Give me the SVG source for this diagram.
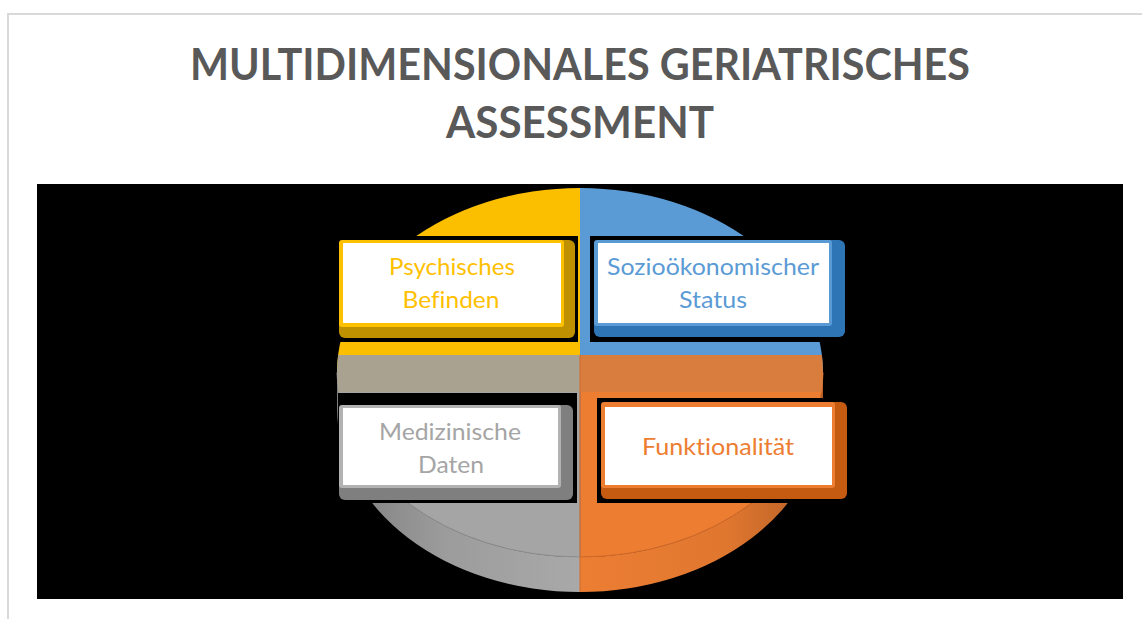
<svg xmlns="http://www.w3.org/2000/svg" width="1142" height="619" viewBox="0 0 1142 619">
  <style>
    .title { font-family: Lato, "Open Sans", "Liberation Sans", sans-serif; font-weight: 700; font-size: 43px; fill: #595959; text-anchor: middle; font-variant-ligatures: none; font-feature-settings: "liga" 0, "dlig" 0; }
    .label { font-family: Lato, "Open Sans", "Liberation Sans", sans-serif; font-size: 24px; text-anchor: middle; font-variant-ligatures: none; font-feature-settings: "liga" 0, "dlig" 0; }
    .backing { fill: #000000; }
    .face { fill: #ffffff; }
  </style>
  <defs>
    <linearGradient id="wallGray" x1="337" y1="0" x2="580" y2="0" gradientUnits="userSpaceOnUse">
      <stop offset="0" stop-color="#7e7e7e"/>
      <stop offset="0.45" stop-color="#9c9c9c"/>
      <stop offset="1" stop-color="#a9a9a9"/>
    </linearGradient>
    <linearGradient id="wallOrange" x1="580" y1="0" x2="823" y2="0" gradientUnits="userSpaceOnUse">
      <stop offset="0" stop-color="#ec7e33"/>
      <stop offset="0.6" stop-color="#e0772f"/>
      <stop offset="1" stop-color="#b45e26"/>
    </linearGradient>
    <clipPath id="topFace">
      <ellipse cx="580" cy="372.5" rx="243" ry="184.5"/>
    </clipPath>
  </defs>

  <!-- page frame -->
  <g id="frame">
    <rect x="0" y="0" width="1142" height="619" fill="#ffffff"/>
    <path d="M8,619 L8,14 L1142,14" fill="none" stroke="#d9d9d9" stroke-width="2"/>
  </g>

  <!-- heading -->
  <g id="title">
    <text class="title" x="580" y="80" textLength="780" lengthAdjust="spacingAndGlyphs">MULTIDIMENSIONALES GERIATRISCHES</text>
    <text class="title" x="580" y="138" textLength="268" lengthAdjust="spacingAndGlyphs">ASSESSMENT</text>
  </g>

  <!-- canvas -->
  <rect id="canvas" x="37" y="184" width="1086" height="415" fill="#000000"/>

  <!-- four-part disc -->
  <g id="disc">
    <!-- side walls -->
    <path d="M337,372.5 L337,407.5 A243,184.5 0 0 0 580,592 L580,557 A243,184.5 0 0 1 337,372.5 Z" fill="url(#wallGray)"/>
    <path d="M823,372.5 L823,407.5 A243,184.5 0 0 1 580,592 L580,557 A243,184.5 0 0 0 823,372.5 Z" fill="url(#wallOrange)"/>
    <!-- top face quadrants -->
    <path d="M580,372.5 L337,372.5 A243,184.5 0 0 1 580,188 Z" fill="#fcbf00"/>
    <path d="M580,372.5 L580,188 A243,184.5 0 0 1 823,372.5 Z" fill="#5b9bd5"/>
    <path d="M580,372.5 L823,372.5 A243,184.5 0 0 1 580,557 Z" fill="#ed7d31" stroke="#d0692a" stroke-width="1"/>
    <path d="M580,372.5 L337,372.5 A243,184.5 0 0 0 580,557 Z" fill="#a5a5a5" stroke="#8e8e8e" stroke-width="1"/>
    <!-- middle band -->
    <g clip-path="url(#topFace)">
      <rect x="337" y="355" width="243" height="37" fill="#aaa290"/>
      <rect x="580" y="355" width="243" height="37" fill="#d87d3d"/>
    </g>
    <line x1="580" y1="355" x2="580" y2="592" stroke="#d0692a" stroke-width="1"/>
  </g>

  <!-- connectors (none) -->
  <g id="connectors"/>

  <!-- nodes -->
  <g id="node-psychisches">
    <rect class="backing" x="338" y="236" width="240" height="106"/>
    <rect x="339" y="240" width="236" height="98" rx="6" fill="#bf9000"/>
    <rect x="339" y="240" width="225" height="87" rx="3" fill="#ffc000"/>
    <rect class="face" x="343" y="243" width="218" height="80"/>
    <text class="label" x="452" y="275" fill="#ffc000" textLength="126" lengthAdjust="spacingAndGlyphs">Psychisches</text>
    <text class="label" x="451" y="308" fill="#ffc000" textLength="97" lengthAdjust="spacingAndGlyphs">Befinden</text>
  </g>

  <g id="node-soziooekonomisch">
    <rect class="backing" x="590" y="236" width="257" height="106"/>
    <rect x="594" y="240" width="251" height="97" rx="6" fill="#2e75b6"/>
    <rect x="594" y="240" width="238" height="86" rx="3" fill="#5b9bd5"/>
    <rect class="face" x="598" y="243" width="231" height="80"/>
    <text class="label" x="713" y="275" fill="#5b9bd5" textLength="212" lengthAdjust="spacingAndGlyphs">Sozioökonomischer</text>
    <text class="label" x="713" y="308" fill="#5b9bd5" textLength="68" lengthAdjust="spacingAndGlyphs">Status</text>
  </g>

  <g id="node-medizinisch">
    <rect class="backing" x="338" y="393" width="239" height="110"/>
    <rect x="339" y="405" width="234" height="95" rx="6" fill="#7f7f7f"/>
    <rect x="339" y="405" width="222" height="83" rx="3" fill="#b2b2b2"/>
    <rect class="face" x="343" y="408" width="215" height="77"/>
    <text class="label" x="450" y="440" fill="#a5a5a5" textLength="142" lengthAdjust="spacingAndGlyphs">Medizinische</text>
    <text class="label" x="451" y="473" fill="#a5a5a5" textLength="66" lengthAdjust="spacingAndGlyphs">Daten</text>
  </g>

  <g id="node-funktionalitaet">
    <rect class="backing" x="597" y="398" width="251" height="105"/>
    <rect x="601" y="402" width="246" height="97" rx="6" fill="#c55a11"/>
    <rect x="601" y="402" width="234" height="86" rx="3" fill="#ed7d31"/>
    <rect class="face" x="605" y="407" width="227" height="78"/>
    <text class="label" x="718" y="455" fill="#ed7d31" textLength="152" lengthAdjust="spacingAndGlyphs">Funktionalität</text>
  </g>
</svg>
